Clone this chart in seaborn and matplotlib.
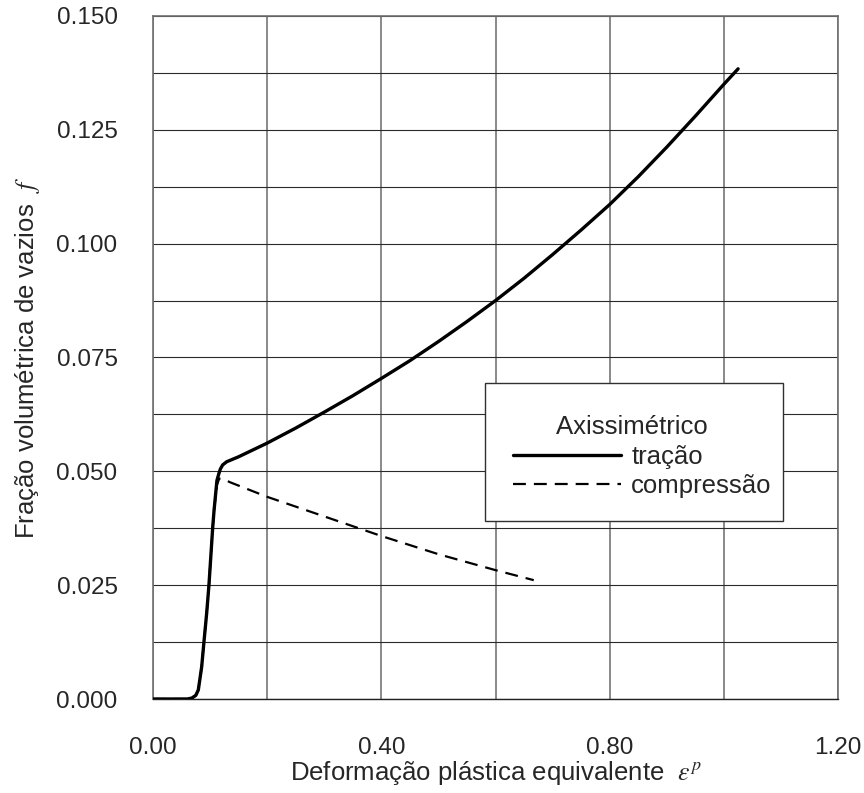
import matplotlib
matplotlib.use("Agg")
import matplotlib.pyplot as plt
from matplotlib.patches import Rectangle
from matplotlib.ticker import MultipleLocator, FormatStrFormatter
import pandas as pd
import seaborn as sns

# Tension curve (void fraction vs equivalent plastic strain)
tracao_eps = [0.000, 0.060, 0.068, 0.075, 0.0794, 0.0853, 0.0893, 0.094, 0.098,
              0.1045, 0.107, 0.112, 0.1156, 0.118, 0.122, 0.129, 0.150, 0.170,
              0.200, 0.250, 0.300, 0.350, 0.400, 0.450, 0.500, 0.550, 0.600,
              0.650, 0.700, 0.750, 0.800, 0.850, 0.900, 0.950, 1.000, 1.025]
tracao_f = [0.0000, 0.0000, 0.0002, 0.0008, 0.0020, 0.0071, 0.0126, 0.0188, 0.0250,
            0.0375, 0.0415, 0.0480, 0.0496, 0.0505, 0.0514, 0.0521, 0.0532, 0.0544,
            0.0562, 0.0595, 0.0630, 0.0666, 0.0704, 0.0743, 0.0785, 0.0829, 0.0875,
            0.0924, 0.0976, 0.1030, 0.1086, 0.1147, 0.1212, 0.1280, 0.1350, 0.1384]

# Compression curve
compressao_eps = [0.000, 0.060, 0.068, 0.075, 0.0794, 0.0853, 0.0893, 0.094, 0.098,
                  0.1045, 0.107, 0.112, 0.116, 0.122, 0.135, 0.200, 0.300, 0.400,
                  0.500, 0.600, 0.667]
compressao_f = [0.0000, 0.0000, 0.0002, 0.0008, 0.0020, 0.0071, 0.0126, 0.0188, 0.0250,
                0.0375, 0.0415, 0.0470, 0.0484, 0.0484, 0.0476, 0.0444, 0.0401, 0.0358,
                0.0318, 0.0283, 0.0261]

x_ticks = [0.00, 0.40, 0.80, 1.20]
y_ticks = [0.000, 0.025, 0.050, 0.075, 0.100, 0.125, 0.150]

sns.set_style("white")
plt.rcParams["font.family"] = ["Liberation Sans", "DejaVu Sans"]
plt.rcParams["mathtext.fontset"] = "stix"

fig = plt.figure(figsize=(8.64, 7.93), dpi=100)
ax = fig.add_axes([153 / 864, 1 - 699 / 793, 685 / 864, 683 / 793])

df_t = pd.DataFrame({"eps": tracao_eps, "f": tracao_f})
df_c = pd.DataFrame({"eps": compressao_eps, "f": compressao_f})

sns.lineplot(data=df_c, x="eps", y="f", ax=ax, color="black", lw=1.6,
             sort=False, estimator=None, zorder=4, label="compressão")
ax.lines[-1].set_dashes((5.8, 3.6))
sns.lineplot(data=df_t, x="eps", y="f", ax=ax, color="black", lw=2.4,
             sort=False, estimator=None, zorder=5, label="tração")
ax.lines[-1].set_solid_capstyle("round")
ax.lines[-1].set_solid_joinstyle("round")

ax.set_xlim(0, 1.2)
ax.set_ylim(0, 0.15)
ax.set_xticks(x_ticks)
ax.set_yticks(y_ticks)
ax.xaxis.set_minor_locator(MultipleLocator(0.2))
ax.yaxis.set_minor_locator(MultipleLocator(0.0125))
ax.xaxis.set_major_formatter(FormatStrFormatter("%.2f"))
ax.yaxis.set_major_formatter(FormatStrFormatter("%.3f"))

# grid: vertical lines every 0.2, horizontal every 0.0125
ax.grid(False)
ax.xaxis.grid(True, which="both", color="#808080", lw=1.3, zorder=1)
ax.yaxis.grid(True, which="both", color="#2a2a2a", lw=0.8, zorder=1)
ax.set_axisbelow(True)

ax.tick_params(axis="both", which="major", direction="out", length=16.5,
               width=0.9, color="#404040", labelsize=17.5)
ax.tick_params(axis="both", which="minor", direction="out", length=8,
               width=0.9, color="#404040")
ax.tick_params(axis="y", which="major", pad=9)
ax.tick_params(axis="x", which="major", pad=11)

for side in ["left", "top", "right"]:
    ax.spines[side].set_color("#707070")
    ax.spines[side].set_linewidth(1.2)
ax.spines["bottom"].set_color("#202020")
ax.spines["bottom"].set_linewidth(1.0)

ax.set_xlabel(r"Deformação plástica equivalente  $\varepsilon^{p}$", fontsize=18.5, labelpad=0)
ax.set_ylabel(r"Fração volumétrica de vazios  $f$", fontsize=18.5, labelpad=10)

# legend frame
box = Rectangle(((485 - 153) / 685, (699 - 521) / 683), (783 - 485) / 685, (521 - 383) / 683,
                transform=ax.transAxes, facecolor="white", edgecolor="#303030",
                lw=1.0, zorder=6)
ax.add_patch(box)

handles, labels = ax.get_legend_handles_labels()
order = [labels.index("tração"), labels.index("compressão")]
leg = ax.legend([handles[i] for i in order], [labels[i] for i in order],
                title="Axissimétrico   ", loc="upper left",
                bbox_to_anchor=((513 - 153) / 685, (699 - 415) / 683),
                frameon=False, fontsize=18.5, title_fontsize=18.5,
                borderpad=0, borderaxespad=0, handlelength=4.2,
                handletextpad=0.4, labelspacing=0.22)
leg.set_zorder(7)

fig.savefig("out.png", dpi=100)
